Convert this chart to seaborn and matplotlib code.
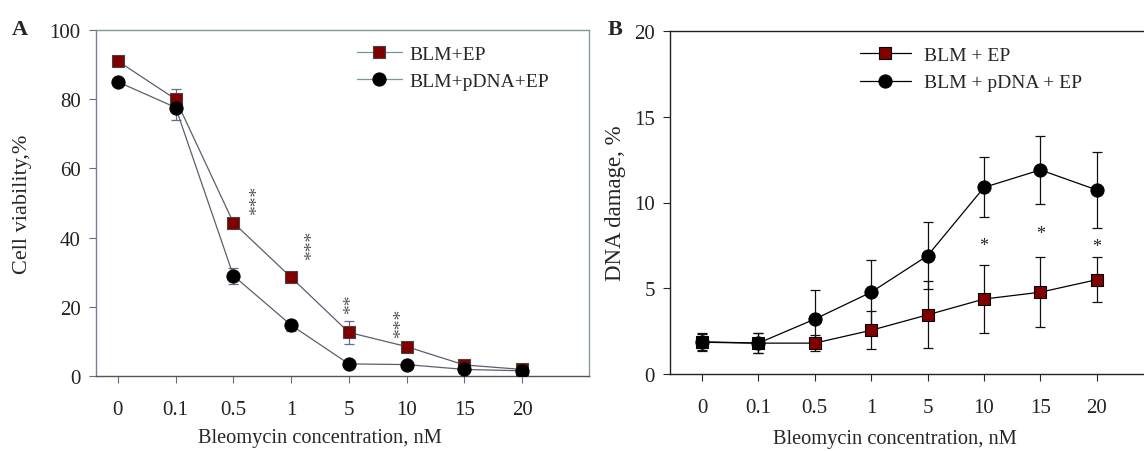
import numpy as np
import matplotlib
matplotlib.use("Agg")
import matplotlib.pyplot as plt
import seaborn as sns

concentrations = ["0", "0.1", "0.5", "1", "5", "10", "15", "20"]

# panel A: cell viability, %
via_ep = [91.0, 80.0, 44.3, 28.5, 12.6, 8.5, 3.2, 1.9]
via_ep_err = [0.8, 3.0, 1.0, 1.0, 3.3, 0.8, 0.5, 0.4]
via_pdna = [85.0, 77.6, 29.0, 14.7, 3.5, 3.3, 1.9, 1.5]
via_pdna_err = [1.0, 3.5, 2.3, 1.6, 0.6, 0.6, 0.5, 0.4]
via_stars = ["***", "***", "**", "***"]
via_star_idx = [2, 3, 4, 5]

# panel B: DNA damage, %
dmg_ep = [1.85, 1.8, 1.8, 2.55, 3.45, 4.37, 4.77, 5.5]
dmg_ep_err = [0.5, 0.6, 0.45, 1.1, 1.95, 2.0, 2.05, 1.3]
dmg_pdna = [1.88, 1.8, 3.2, 4.77, 6.9, 10.88, 11.9, 10.73]
dmg_pdna_err = [0.5, 0.6, 1.7, 1.9, 1.95, 1.75, 2.0, 2.2]
dmg_stars = ["*", "*", "*"]
dmg_star_idx = [5, 6, 7]

RED = "#800000"

sns.set_style("ticks")
plt.rcParams["font.family"] = ["Liberation Serif", "DejaVu Serif"]

W, H = 1144, 452
fig = plt.figure(figsize=(W / 100, H / 100), dpi=100)

def px_box(left, right, top, bottom):
    return [left / W, 1 - bottom / H, (right - left) / W, (bottom - top) / H]

ax_a = fig.add_axes(px_box(96, 589, 31, 377))
ax_b = fig.add_axes(px_box(670, 1160, 32, 375))

x = np.arange(len(concentrations))

def draw_panel(ax, ep, ep_err, pdna, pdna_err, labels, line_col, err_col, edge_col):
    ax.errorbar(x, ep, yerr=ep_err, fmt="none", ecolor=err_col, elinewidth=0.9,
                capsize=3.5, capthick=0.9, zorder=2)
    ax.errorbar(x, pdna, yerr=pdna_err, fmt="none", ecolor=err_col, elinewidth=0.9,
                capsize=3.5, capthick=0.9, zorder=2)
    sns.lineplot(x=x, y=ep, ax=ax, color=line_col, lw=0.9, marker="s", markersize=8,
                 markerfacecolor=RED, markeredgecolor=edge_col, markeredgewidth=0.8,
                 label=labels[0], zorder=3)
    sns.lineplot(x=x, y=pdna, ax=ax, color=line_col, lw=0.9, marker="o", markersize=9.5,
                 markerfacecolor="black", markeredgecolor="black",
                 label=labels[1], zorder=4)
    ax.set_xticks(x)
    ax.set_xticklabels(concentrations)
    ax.tick_params(axis="both", direction="out", length=5, width=0.8,
                   labelsize=15, labelcolor="#222222", pad=6)
    ax.tick_params(axis="x", pad=12)

# ---- panel A
draw_panel(ax_a, via_ep, via_ep_err, via_pdna, via_pdna_err,
           ["BLM+EP", "BLM+pDNA+EP"], "#5a5f6e", "#6a6a8a", "#444444")
ax_a.set_xlim(-0.38, 8.16)
ax_a.set_ylim(0, 100)
ax_a.set_yticks([0, 20, 40, 60, 80, 100])
for side, col in [("left", "#7b7b9b"), ("bottom", "#555555"),
                  ("top", "#7a9a9a"), ("right", "#8a9a9a")]:
    ax_a.spines[side].set_color(col)
    ax_a.spines[side].set_linewidth(1.0)
ax_a.tick_params(colors="#6a6a8a", labelcolor="#222222")
star_dx = [0.42, 0.37, 0.04, -0.09]
star_dy = [6.7, 9.5, 8.4, 7.1]
for s, i, dx, dy in zip(via_stars, via_star_idx, star_dx, star_dy):
    ax_a.text(i + dx, via_ep[i] + dy, s, rotation=90, ha="center", va="center",
              fontsize=14, color="#555555")
ax_a.set_ylabel("Cell viability,%", fontsize=16)
ax_a.yaxis.set_label_coords(-0.13, 0.5)
ax_a.set_xlabel("Bleomycin concentration, nM", fontsize=14.7)
ax_a.xaxis.set_label_coords(0.455, -0.15)
leg = ax_a.legend(loc="upper left", bbox_to_anchor=(0.529, 0.955), frameon=False,
                  fontsize=14, handlelength=2.3, handletextpad=0.4,
                  labelspacing=0.45, borderpad=0, borderaxespad=0)
for h in leg.get_lines():
    h.set_color("#6e9a9a")

# ---- panel B
draw_panel(ax_b, dmg_ep, dmg_ep_err, dmg_pdna, dmg_pdna_err,
           ["BLM + EP", "BLM + pDNA + EP"], "black", "#111111", "black")
ax_b.set_xlim(-0.567, 8.12)
ax_b.set_ylim(0, 20)
ax_b.set_yticks([0, 5, 10, 15, 20])
for side in ["left", "bottom", "top", "right"]:
    ax_b.spines[side].set_color("#222222")
    ax_b.spines[side].set_linewidth(1.0)
dmg_star_dy = [1.15, 1.4, 0.65]
for s, i, dy in zip(dmg_stars, dmg_star_idx, dmg_star_dy):
    ax_b.text(i, dmg_ep[i] + dmg_ep_err[i] + dy, s, ha="center", va="center",
              fontsize=13, color="#222222")
ax_b.set_ylabel("DNA damage, %", fontsize=16.5)
ax_b.yaxis.set_label_coords(-0.09, 0.5)
ax_b.set_xlabel("Bleomycin concentration, nM", fontsize=14.7)
ax_b.xaxis.set_label_coords(0.459, -0.16)
ax_b.legend(loc="upper left", bbox_to_anchor=(0.388, 0.955), frameon=False,
            fontsize=14, handlelength=2.6, handletextpad=0.67,
            labelspacing=0.5, borderpad=0, borderaxespad=0)

fig.text(12 / W, 1 - 35 / H, "A", fontsize=16, fontweight="bold", va="baseline")
fig.text(608 / W, 1 - 35 / H, "B", fontsize=16, fontweight="bold", va="baseline")

fig.savefig("out.png", dpi=100)
